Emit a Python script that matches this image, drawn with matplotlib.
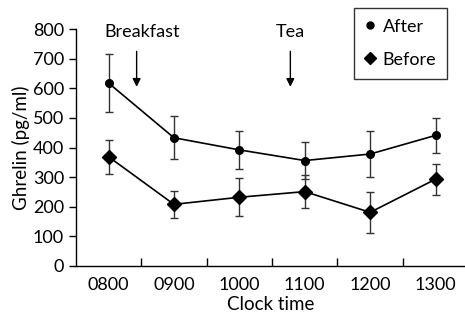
import matplotlib
matplotlib.use('Agg')
import matplotlib.pyplot as plt
from matplotlib.lines import Line2D

# clock times
times = ['0800', '0900', '1000', '1100', '1200', '1300']

# ghrelin (pg/ml), mean and error
after = [618, 433, 392, 356, 378, 441]
after_err = [98, 72, 63, 63, 77, 60]
before = [369, 208, 232, 251, 181, 293]
before_err = [58, 45, 65, 57, 70, 53]

plt.rcParams['font.family'] = ['Lato', 'DejaVu Sans']

fig = plt.figure(figsize=(4.65, 3.2), dpi=100)
ax = fig.add_axes([0.163, 0.169, 0.837, 0.74])

x = list(range(len(times)))

ax.errorbar(x, after, yerr=after_err, color='black', ecolor='#333333', elinewidth=1.0,
            capsize=3, capthick=1.0, lw=1.2, marker='o', ms=5.5)
ax.errorbar(x, before, yerr=before_err, color='black', ecolor='#333333', elinewidth=1.0,
            capsize=3, capthick=1.0, lw=1.2, marker='D', ms=7)

# meal arrows
for xa in [0.43, 2.78]:
    ax.annotate('', xy=(xa, 605), xytext=(xa, 725),
                arrowprops=dict(arrowstyle='-|>', color='black', lw=1.0,
                                mutation_scale=12, shrinkA=0, shrinkB=0))
ax.text(0.52, 790, 'Breakfast', ha='center', va='center', fontsize=13)
ax.text(2.78, 790, 'Tea', ha='center', va='center', fontsize=13)

ax.set_xlim(-0.5, 5.45)
ax.set_ylim(0, 800)
ax.set_yticks(range(0, 801, 100))
ax.set_xticks(x)
ax.set_xticklabels(times)
ax.set_xticks([i + 0.5 for i in range(-1, 6) if -0.5 < i + 0.5 < 5.45], minor=True)
ax.tick_params(axis='x', which='major', length=0, labelsize=13, pad=8)
ax.tick_params(axis='x', which='minor', direction='in', length=6, width=1.0)
ax.tick_params(axis='y', direction='out', length=5, width=1.0, labelsize=13)

for s in ['top', 'right']:
    ax.spines[s].set_visible(False)
for s in ['left', 'bottom']:
    ax.spines[s].set_linewidth(1.0)

ax.set_xlabel('Clock time', fontsize=13.5, labelpad=2)
ax.set_ylabel('Ghrelin (pg/ml)', fontsize=13.5, labelpad=2)

handles = [Line2D([], [], color='black', marker='o', ms=5, ls='none'),
           Line2D([], [], color='black', marker='D', ms=6, ls='none')]
leg = ax.legend(handles, ['After', 'Before'], loc='upper right', bbox_to_anchor=(0.954, 1.09),
                fontsize=13, frameon=True, fancybox=False, edgecolor='black',
                handlelength=0.6, handletextpad=0.4, borderpad=0.6, labelspacing=0.95,
                borderaxespad=0)
leg.get_frame().set_linewidth(1.0)

fig.savefig('out.png', dpi=100)
